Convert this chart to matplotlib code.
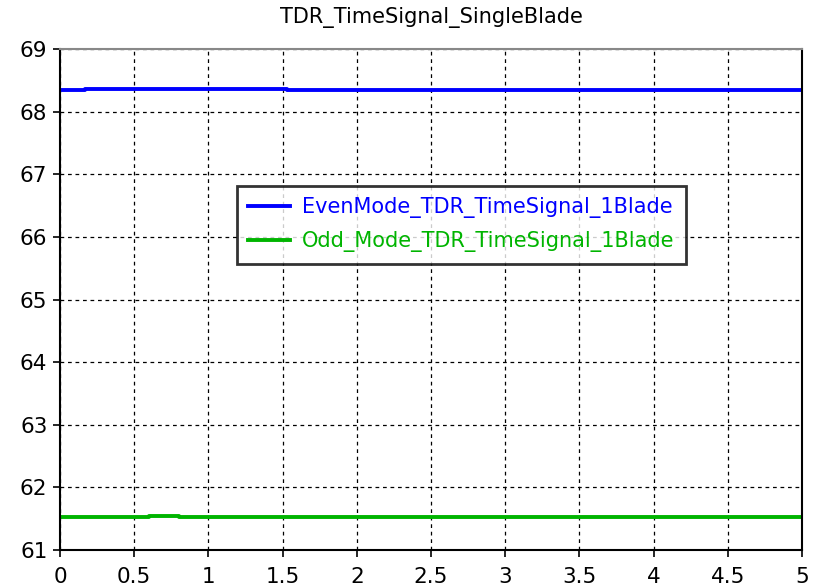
import matplotlib
matplotlib.use("Agg")
import matplotlib.pyplot as plt
from matplotlib.ticker import FuncFormatter

# Data (step-like signals)
even_t = [0.0, 0.17, 0.17, 1.53, 1.53, 5.0]
even_v = [68.34, 68.34, 68.355, 68.355, 68.34, 68.34]
odd_t = [0.0, 0.6, 0.6, 0.8, 0.8, 5.0]
odd_v = [61.525, 61.525, 61.545, 61.545, 61.52, 61.52]
x_ticks = [0, 0.5, 1, 1.5, 2, 2.5, 3, 3.5, 4, 4.5, 5]
y_ticks = [61, 62, 63, 64, 65, 66, 67, 68, 69]
title = "TDR_TimeSignal_SingleBlade"
labels = ["EvenMode_TDR_TimeSignal_1Blade", "Odd_Mode_TDR_TimeSignal_1Blade"]
colors = ["#0000ff", "#00b400"]

plt.rcParams['font.family'] = ['DejaVu Sans']
fig = plt.figure(figsize=(8.14, 5.86), dpi=100)
ax = fig.add_axes([0.0737, 0.0614, 0.9116, 0.855])

l1, = ax.plot(even_t, even_v, color=colors[0], lw=2.8, label=labels[0])
l2, = ax.plot(odd_t, odd_v, color=colors[1], lw=2.8, label=labels[1])

ax.set_xlim(0, 5)
ax.set_ylim(61, 69)
ax.set_xticks(x_ticks)
ax.set_yticks(y_ticks)
ax.xaxis.set_major_formatter(FuncFormatter(lambda v, p: f"{v:g}"))
ax.tick_params(axis='both', labelsize=15.5, direction='out', length=5, width=1.2, colors='black')
ax.tick_params(axis='x', pad=7)
ax.tick_params(axis='y', pad=4)
ax.grid(True, color='black', linestyle=(0, (3, 3)), linewidth=0.9)
for s in ax.spines.values():
    s.set_linewidth(1.5)
    s.set_color('black')
ax.spines['top'].set_color('#888888')

ax.set_title(title, fontsize=15, pad=19)

leg = ax.legend(loc='upper left', bbox_to_anchor=(0.2385, 0.7265), fontsize=15,
                frameon=True, fancybox=False, handlelength=2.0, borderpad=0.55,
                labelspacing=0.62, handletextpad=0.55, borderaxespad=0)
leg.get_frame().set_edgecolor('black')
leg.get_frame().set_linewidth(2)
for t, c in zip(leg.get_texts(), colors):
    t.set_color(c)

fig.savefig("out.png", dpi=100)
